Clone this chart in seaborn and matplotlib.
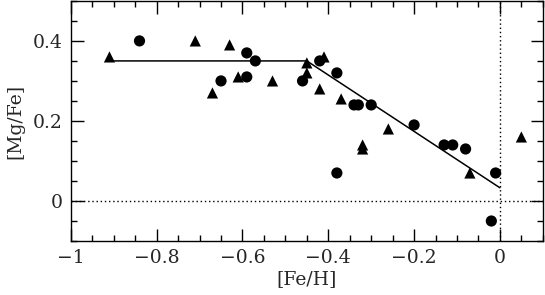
import numpy as np
import pandas as pd
import matplotlib
matplotlib.use("Agg")
import matplotlib.pyplot as plt
import seaborn as sns
from matplotlib.ticker import MultipleLocator, FuncFormatter

# circles
circ_feh = [-0.84, -0.65, -0.59, -0.57, -0.59, -0.46, -0.42, -0.38, -0.34, -0.33,
            -0.30, -0.20, -0.13, -0.11, -0.08, -0.01, -0.38, -0.02]
circ_mgfe = [0.40, 0.30, 0.37, 0.35, 0.31, 0.30, 0.35, 0.32, 0.24, 0.24,
             0.24, 0.19, 0.14, 0.14, 0.13, 0.07, 0.07, -0.05]
# triangles
tri_feh = [-0.91, -0.71, -0.63, -0.61, -0.67, -0.53, -0.45, -0.45, -0.41, -0.42,
           -0.37, -0.26, -0.32, -0.32, -0.07, 0.05]
tri_mgfe = [0.36, 0.40, 0.39, 0.31, 0.27, 0.30, 0.345, 0.32, 0.36, 0.28,
            0.255, 0.18, 0.14, 0.13, 0.07, 0.16]
# broken-line fit
fit_feh = [-0.90, -0.45, 0.0]
fit_mgfe = [0.35, 0.35, 0.033]

df = pd.DataFrame({
    "feh": circ_feh + tri_feh,
    "mgfe": circ_mgfe + tri_mgfe,
    "kind": ["c"] * len(circ_feh) + ["t"] * len(tri_feh),
})

sns.set_style("ticks")
plt.rcParams["font.family"] = ["DejaVu Serif"]
plt.rcParams["mathtext.fontset"] = "dejavuserif"

fig = plt.figure(figsize=(5.45, 2.95), dpi=100)
ax = fig.add_axes([0.130, 0.183, 0.866, 0.814])

ax.axhline(0, color="black", lw=1, ls=(0, (1, 2)))
ax.axvline(0, color="black", lw=1, ls=(0, (1, 2)))
sns.lineplot(x=fit_feh, y=fit_mgfe, color="black", lw=1.1, ax=ax, sort=False)
sns.scatterplot(data=df, x="feh", y="mgfe", style="kind", markers={"c": "o", "t": "^"},
                color="black", s=65, edgecolor="black", linewidth=0, legend=False, ax=ax)

ax.set_xlim(-1.0, 0.1)
ax.set_ylim(-0.1, 0.5)
ax.xaxis.set_major_locator(MultipleLocator(0.2))
ax.xaxis.set_minor_locator(MultipleLocator(0.05))
ax.yaxis.set_major_locator(MultipleLocator(0.2))
ax.yaxis.set_minor_locator(MultipleLocator(0.05))
fmt = FuncFormatter(lambda v, p: ("%g" % round(v, 3)).replace("-", "\u2212") if abs(v) > 1e-9 else "0")
ax.xaxis.set_major_formatter(fmt)
ax.yaxis.set_major_formatter(fmt)
ax.tick_params(which="both", direction="in", top=True, right=True, labelsize=13.5, color="black", pad=6)
ax.tick_params(which="major", length=9, width=1)
ax.tick_params(which="minor", length=4.5, width=1)
for s in ax.spines.values():
    s.set_linewidth(1)
    s.set_color("black")

ax.set_xlabel("[Fe/H]", fontsize=13.5, labelpad=2)
ax.set_ylabel("[Mg/Fe]", fontsize=13.5, labelpad=6)

fig.savefig("out.png", dpi=100)
